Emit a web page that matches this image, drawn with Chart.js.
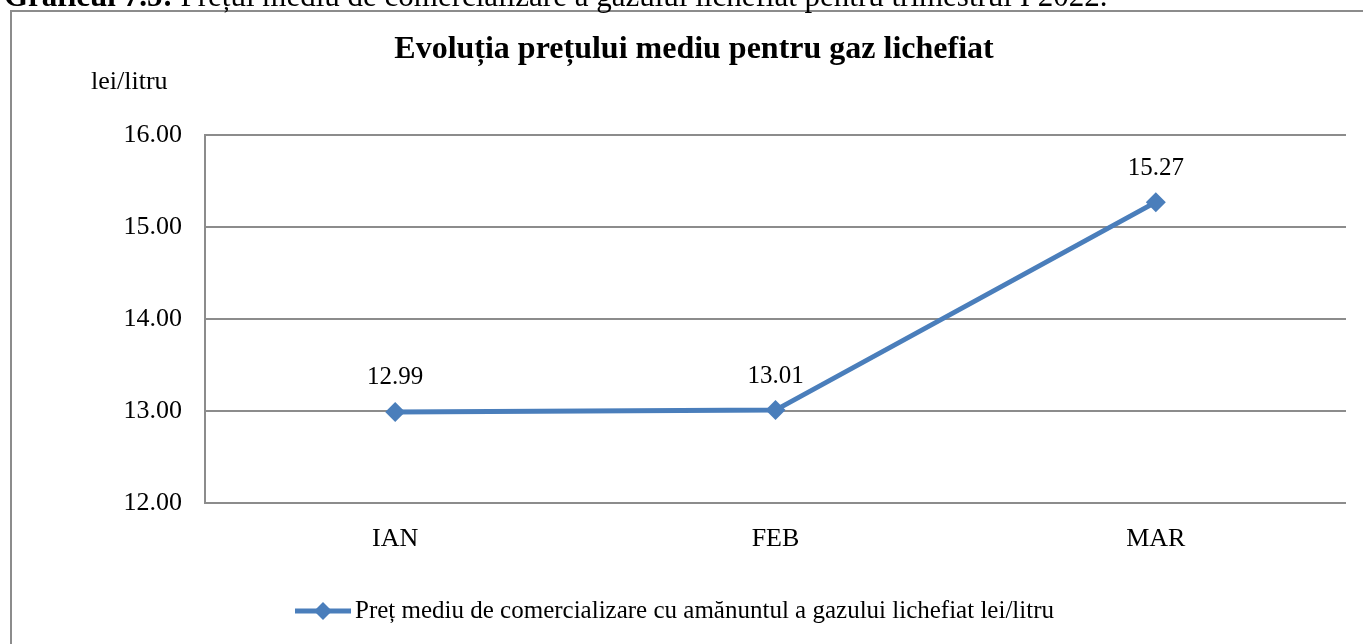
<!DOCTYPE html>
<html>
<head>
<meta charset="utf-8">
<script src="https://cdn.jsdelivr.net/npm/chart.js@4.4.0/dist/chart.umd.min.js"></script>
<style>
  html, body { margin: 0; padding: 0; background: #fff; }
  #wrap { width: 1363px; height: 644px; position: relative; }
</style>
</head>
<body>
<div id="wrap"><canvas id="chart"></canvas></div>
<script>
const months = ["IAN", "FEB", "MAR"];
const prices = [12.99, 13.01, 15.27];
const seriesName = "Preț mediu de comercializare cu amănuntul a gazului lichefiat lei/litru";
const chartTitle = "Evoluția prețului mediu pentru gaz lichefiat";
const unitLabel = "lei/litru";
const headingBold = "Graficul 7.5:";
const headingText = " Prețul mediu de comercializare a gazului lichefiat pentru trimestrul I 2022.";

const SERIF = "'Liberation Serif', 'Times New Roman', serif";
const LINE_COLOR = "#4a7ebb";
const GRID_COLOR = "#8c8c8c";

// texte și chenar desenate peste grafic
const extras = {
  id: "extras",
  afterDraw(chart) {
    const c = chart.ctx;
    c.save();
    // chenarul graficului
    c.strokeStyle = GRID_COLOR;
    c.lineWidth = 2;
    c.strokeRect(11, 11, 1400, 700);

    // titlul documentului, tăiat sus
    c.fillStyle = "#000";
    c.textBaseline = "alphabetic";
    c.textAlign = "left";
    c.font = "bold 31px " + SERIF;
    c.fillText(headingBold, 4, 6);
    const w = c.measureText(headingBold).width;
    c.font = "31px " + SERIF;
    c.fillText(headingText, 4 + w, 6);

    // titlul graficului
    c.font = "bold 32px " + SERIF;
    c.textAlign = "center";
    c.textBaseline = "middle";
    c.fillText(chartTitle, 694, 50);

    // unitatea
    c.font = "26px " + SERIF;
    c.textAlign = "left";
    c.fillText(unitLabel, 91, 82);

    // etichete de date
    const meta = chart.getDatasetMeta(0);
    c.font = "25px " + SERIF;
    c.textAlign = "center";
    meta.data.forEach((pt, i) => {
      c.fillText(prices[i].toFixed(2), pt.x, pt.y - 34);
    });

    // legenda
    const ly = 611;
    c.strokeStyle = LINE_COLOR;
    c.lineWidth = 5;
    c.beginPath();
    c.moveTo(295, ly);
    c.lineTo(351, ly);
    c.stroke();
    c.fillStyle = LINE_COLOR;
    c.beginPath();
    c.moveTo(323, ly - 9);
    c.lineTo(332, ly);
    c.lineTo(323, ly + 9);
    c.lineTo(314, ly);
    c.closePath();
    c.fill();
    c.fillStyle = "#000";
    c.font = "25px " + SERIF;
    c.textAlign = "left";
    c.fillText(seriesName, 355, ly);
    c.restore();
  }
};

new Chart(document.getElementById("chart"), {
  type: "line",
  data: {
    labels: months,
    datasets: [{
      label: seriesName,
      data: prices,
      borderColor: LINE_COLOR,
      backgroundColor: LINE_COLOR,
      borderWidth: 5,
      tension: 0,
      pointStyle: "rectRot",
      pointRadius: 10,
      pointHoverRadius: 10,
      pointBorderWidth: 0
    }]
  },
  options: {
    responsive: true,
    maintainAspectRatio: false,
    animation: false,
    layout: { padding: { left: 0, top: 135, right: 17, bottom: 0 } },
    plugins: {
      legend: { display: false },
      title: { display: false },
      tooltip: { enabled: false }
    },
    scales: {
      x: {
        offset: true,
        grid: { display: false, drawTicks: false },
        border: { display: false },
        ticks: { color: "#000", font: { family: SERIF, size: 26 }, padding: 21 },
        afterFit(scale) { scale.height = 141; }
      },
      y: {
        min: 12,
        max: 16,
        ticks: {
          stepSize: 1,
          color: "#000",
          padding: 23,
          font: { family: SERIF, size: 26 },
          callback: (v) => v.toFixed(2)
        },
        grid: { color: GRID_COLOR, lineWidth: 2, drawTicks: false },
        border: { color: GRID_COLOR, width: 2 },
        afterFit(scale) { scale.width = 205; }
      }
    }
  },
  plugins: [extras]
});
</script>
</body>
</html>
